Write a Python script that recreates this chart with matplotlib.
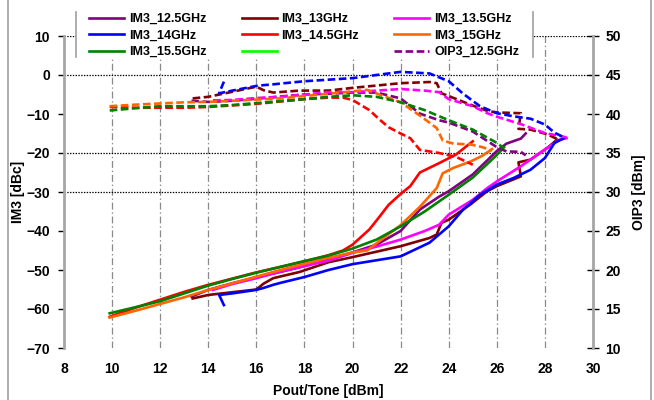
import matplotlib.pyplot as plt
from matplotlib.patches import Rectangle
from matplotlib.lines import Line2D

plt.rcParams['font.family'] = ['Liberation Sans', 'DejaVu Sans']
plt.rcParams['font.weight'] = 'bold'
plt.rcParams['lines.scale_dashes'] = False

# IM3 [dBc] and OIP3 [dBm] versus Pout/Tone [dBm], one set per frequency
pout_125 = [13.3, 14, 15, 16, 17, 18, 19, 20, 21, 22, 22.8, 23.6, 24, 25, 26, 26.4, 27, 27.2]
im3_125 = [-56.8, -55.1, -53.4, -51.9, -50.5, -49.0, -47.2, -45.5, -43.5, -40.0, -34.5, -31.2,
           -29.8, -25.5, -19.5, -17.6, -16.3, -15.0]
oip3_125 = [41.7, 41.55, 41.7, 41.95, 42.25, 42.5, 42.6, 42.75, 42.75, 42.0, 40.05, 39.2,
            38.9, 37.75, 35.75, 35.2, 35.15, 34.7]

pout_13 = [13.35, 14, 15, 16, 16.3, 16.7, 17.8, 19, 20, 21, 22, 23.2, 23.5, 23.7, 24, 24.9,
           25.6, 26, 27, 26.9, 27.4, 28.1, 28.5]
im3_13 = [-57.3, -56.4, -55.7, -55.0, -53.5, -52.1, -50.5, -48.0, -46.7, -45.3, -43.9, -41.8,
          -40.9, -37.9, -37.1, -33.2, -29.8, -28.5, -26.0, -22.4, -21.7, -18.7, -16.6]
oip3_13 = [42.0, 42.2, 42.85, 43.5, 43.05, 42.75, 43.0, 43.0, 43.35, 43.65, 43.95, 44.1,
           43.95, 42.65, 42.3, 41.2, 40.4, 40.2, 40.1, 38.1, 38.0, 37.4, 36.8]

pout_135 = [14.2, 15, 16, 17, 18, 19, 20, 21, 22, 23, 23.6, 24, 25, 25.6, 26, 27, 28, 28.6, 28.9]
im3_135 = [-55.1, -53.6, -52.1, -50.4, -49.0, -47.6, -45.6, -44.0, -42.2, -40.0, -38.4,
           -35.8, -32.0, -29.0, -27.3, -23.4, -19.1, -16.6, -16.2]
oip3_135 = [41.75, 41.8, 42.05, 42.2, 42.5, 42.8, 42.8, 43.0, 43.2, 43.0, 42.8, 41.9, 41.0,
            40.1, 39.65, 38.7, 37.55, 37.2, 37.0]

pout_14 = [14.65, 14.45, 15, 16, 16.3, 16.7, 17, 18, 19, 20, 21, 22, 23.2, 24, 24.6, 25.3,
           26, 26.7, 27.4, 28, 28.4, 28.8]
im3_14 = [-59.0, -56.4, -56.0, -55.1, -54.6, -53.8, -53.3, -51.8, -50.0, -48.5, -47.5, -46.5,
          -43.0, -38.8, -34.5, -30.7, -28.1, -26.4, -24.3, -21.3, -17.4, -16.2]
oip3_14 = [44.15, 42.65, 43.0, 43.6, 43.7, 43.8, 43.9, 44.2, 44.4, 44.6, 45.0, 45.4, 45.2,
           44.2, 42.6, 41.0, 40.1, 39.7, 39.4, 38.65, 37.6, 37.0]

pout_145 = [9.9, 11, 12, 13, 14, 15, 16, 17, 18, 19, 19.6, 20, 20.7, 21.1, 21.5, 22, 22.4,
            22.8, 23.6, 24.3, 25.0]
im3_145 = [-62.0, -59.6, -57.6, -55.6, -53.8, -52.2, -50.6, -49.2, -47.8, -46.2, -45.0,
           -43.5, -39.6, -36.5, -33.3, -30.5, -28.5, -25.0, -22.6, -20.4, -17.0]
oip3_145 = [40.9, 40.8, 40.8, 40.8, 40.9, 41.1, 41.3, 41.6, 41.9, 42.1, 42.1, 41.8, 40.5,
            39.35, 38.3, 37.5, 36.9, 35.4, 35.0, 34.5, 33.5]

pout_15 = [9.9, 11, 12, 13, 14, 15, 16, 17, 18, 19, 20, 20.6, 21.2, 22, 22.8, 23.5, 23.75,
           24.2, 24.9, 25.4, 25.8]
im3_15 = [-62.2, -60.4, -58.7, -57.0, -55.1, -53.4, -51.7, -50.0, -48.4, -46.9, -45.5, -45.0,
          -42.2, -38.5, -33.8, -29.0, -25.2, -23.8, -22.2, -20.7, -19.0]
oip3_15 = [41.0, 41.2, 41.35, 41.5, 41.55, 41.7, 41.85, 42.0, 42.3, 42.6, 42.9, 43.1, 42.4,
           41.5, 39.8, 38.2, 36.6, 36.2, 36.1, 35.75, 35.3]

pout_155 = [9.9, 11, 12, 13, 14, 15, 16, 17, 18, 19, 20, 21, 22, 23, 24, 25, 26, 26.3]
im3_155 = [-61.1, -59.5, -58.0, -56.0, -54.0, -52.3, -50.7, -49.2, -47.7, -46.3, -44.5,
           -42.2, -38.8, -35.0, -30.7, -26.3, -20.5, -18.5]
oip3_155 = [40.45, 40.75, 41.0, 41.0, 41.0, 41.15, 41.4, 41.65, 41.9, 42.2, 42.4, 42.2,
            41.5, 40.5, 39.2, 38.0, 36.3, 35.6]

freqs = ['12.5GHz', '13GHz', '13.5GHz', '14GHz', '14.5GHz', '15GHz', '15.5GHz']
colors = ['#800080', '#800000', '#FF00FF', '#0000FF', '#FF0000', '#FF6600', '#008000']
pouts = [pout_125, pout_13, pout_135, pout_14, pout_145, pout_15, pout_155]
im3s = [im3_125, im3_13, im3_135, im3_14, im3_145, im3_15, im3_155]
oip3s = [oip3_125, oip3_13, oip3_135, oip3_14, oip3_145, oip3_15, oip3_155]

W, H = 654, 400
fig = plt.figure(figsize=(W / 100, H / 100), dpi=100)
ax = fig.add_axes([64 / W, 1 - 348 / H, (593 - 64) / W, (348 - 36) / H])
ax2 = ax.twinx()

ax.set_xlim(8, 30)
ax.set_ylim(-70, 10)
ax2.set_ylim(10, 50)
ax.set_xticks(range(8, 31, 2))
ax.set_yticks(range(-70, 11, 10))
ax2.set_yticks(range(10, 51, 5))

for xv in range(10, 30, 2):
    ax.axvline(xv, color='#8a8a8a', lw=0.9, ls=(0, (5, 2, 1, 2)), zorder=1)
for yv in [10, 0, -20, -30]:
    ax.axhline(yv, color='black', lw=0.9, ls=(0, (1, 1)), zorder=1)

handles = []
for f, c, px, iy in zip(freqs, colors, pouts, im3s):
    h, = ax.plot(px, iy, color=c, lw=1.9, zorder=3)
    handles.append(h)
lime, = ax.plot([], [], color='#00FF00', lw=1.9)

oip_handle = None
for c, px, oy in zip(colors, pouts, oip3s):
    h, = ax2.plot(px, oy, color=c, lw=1.9, dashes=(5.5, 2.5), zorder=3)
    if oip_handle is None:
        oip_handle = h

for s in ['top', 'bottom', 'right']:
    ax.spines[s].set_visible(False)
for s in ['top', 'bottom', 'left']:
    ax2.spines[s].set_visible(False)
ax.spines['left'].set_color('#a6a6a6')
ax.spines['left'].set_linewidth(2)
ax2.spines['right'].set_color('#a6a6a6')
ax2.spines['right'].set_linewidth(2)

ax.tick_params(axis='y', direction='out', length=4, width=1, labelsize=10, pad=6)
ax.tick_params(axis='x', length=0, labelsize=10, pad=10)
ax2.tick_params(axis='y', direction='inout', length=8, width=1, labelsize=10, pad=5)

ax.set_xlabel('Pout/Tone [dBm]', fontsize=10, fontweight='bold', labelpad=6)
ax.set_ylabel('IM3 [dBc]', fontsize=10, fontweight='bold', labelpad=1)
ax2.set_ylabel('OIP3 [dBm]', fontsize=10, fontweight='bold', labelpad=8)

# white legend panel over the top of the plot, with side borders only
fig.add_artist(Rectangle((76 / W, 1 - 58 / H), (533 - 76) / W, 58 / H,
                         transform=fig.transFigure, facecolor='white', edgecolor='none', zorder=3))
for xb in [76, 533]:
    fig.add_artist(Line2D([xb / W, xb / W], [1 - 12 / H, 1 - 57 / H], transform=fig.transFigure,
                          color='#a0a0a0', lw=1.2, zorder=4))
# chart area border
for xb in [7.5, 651]:
    fig.add_artist(Line2D([xb / W, xb / W], [0, 1], transform=fig.transFigure,
                          color='#a0a0a0', lw=1.2, zorder=4))

# legend filled column by column
leg_handles = [handles[0], handles[3], handles[6],
               handles[1], handles[4], lime,
               handles[2], handles[5], oip_handle]
leg_labels = ['IM3_12.5GHz', 'IM3_14GHz', 'IM3_15.5GHz',
              'IM3_13GHz', 'IM3_14.5GHz', '',
              'IM3_13.5GHz', 'IM3_15GHz', 'OIP3_12.5GHz']
fig.legend(leg_handles, leg_labels, ncol=3, loc='upper left',
           bbox_to_anchor=(89 / W, 1 - 13 / H), frameon=False,
           prop={'size': 9, 'weight': 'bold'},
           handlelength=2.8, handletextpad=0.4, columnspacing=2.8, labelspacing=0.36,
           borderpad=0, borderaxespad=0)

fig.savefig('out.png', dpi=100)
